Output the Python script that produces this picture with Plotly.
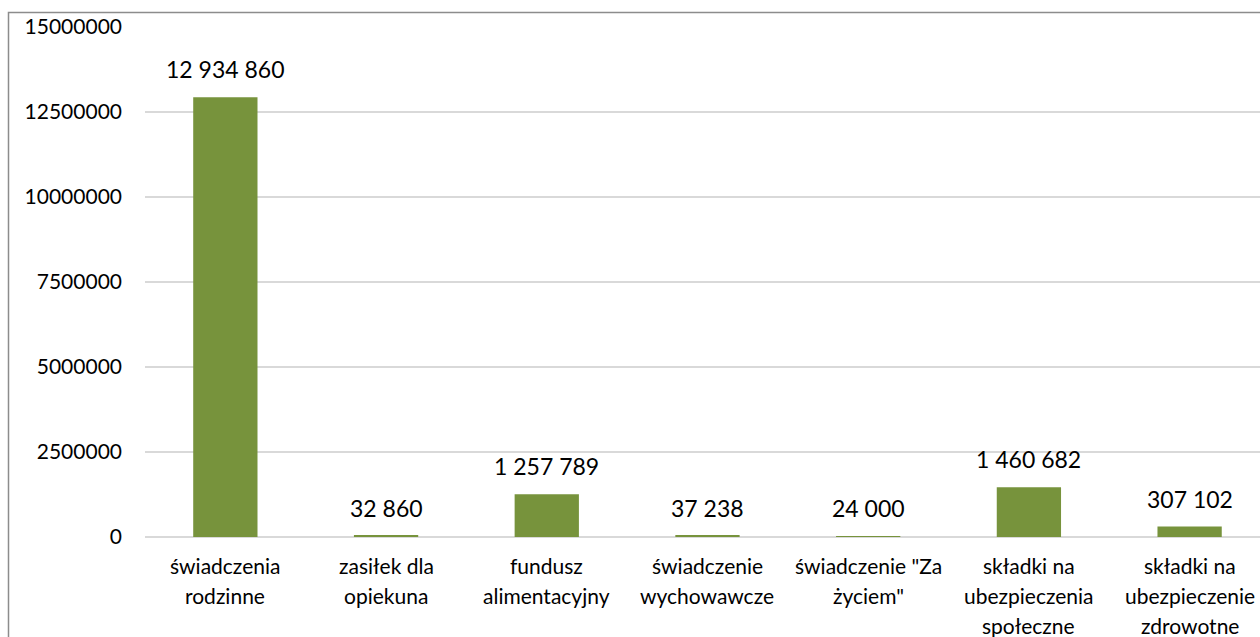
import plotly.graph_objects as go

# Amounts per benefit type
categories = [
    "świadczenia rodzinne",
    "zasiłek dla opiekuna",
    "fundusz alimentacyjny",
    "świadczenie wychowawcze",
    "świadczenie \"Za życiem\"",
    "składki na ubezpieczenia społeczne",
    "składki na ubezpieczenie zdrowotne",
]
category_lines = [
    ["świadczenia", "rodzinne"],
    ["zasiłek dla", "opiekuna"],
    ["fundusz", "alimentacyjny"],
    ["świadczenie", "wychowawcze"],
    ["świadczenie \"Za", "życiem\""],
    ["składki na", "ubezpieczenia", "społeczne"],
    ["składki na", "ubezpieczenie", "zdrowotne"],
]
values = [12934860, 32860, 1257789, 37238, 24000, 1460682, 307102]
y_ticks = [0, 2500000, 5000000, 7500000, 10000000, 12500000, 15000000]

FONT = "Lato"
TEXT = "#000000"
BAR = "#77933C"
GRID = "#d9d9d9"

W, H = 1260, 637
ML, MR, MT, MB = 145, 0, 27, 100

xs = list(range(len(categories)))

fig = go.Figure(
    go.Bar(
        x=xs,
        y=values,
        width=0.4,
        marker=dict(color=BAR, line=dict(width=0)),
        hoverinfo="skip",
    )
)

annotations = []
# value labels above bars
for x, v in zip(xs, values):
    annotations.append(dict(
        x=x, y=v, xref="x", yref="y",
        text=f"{v:,}".replace(",", " "),
        showarrow=False, yanchor="middle", yshift=28,
        font=dict(family=FONT, size=23, color=TEXT),
    ))
# category labels, one line at a time
for x, lines in zip(xs, category_lines):
    for i, line in enumerate(lines):
        annotations.append(dict(
            x=x, y=0, xref="x", yref="paper",
            text=line, showarrow=False, yanchor="middle",
            yshift=-28 - 30 * i,
            font=dict(family=FONT, size=21, color=TEXT),
        ))

plot_w = W - ML - MR
plot_h = H - MT - MB

# outer chart frame
frame_left = (8.5 - ML) / plot_w
frame_top = 1 + (MT - 12.5) / plot_h

fig.update_layout(
    width=W, height=H,
    margin=dict(l=ML, r=MR, t=MT, b=MB, pad=0),
    paper_bgcolor="white",
    plot_bgcolor="white",
    showlegend=False,
    bargap=0.6,
    annotations=annotations,
    shapes=[dict(
        type="rect", xref="paper", yref="paper",
        x0=frame_left, x1=1.2, y0=-0.5, y1=frame_top,
        line=dict(color="#8c8c8c", width=1.5),
        layer="below",
    )],
    xaxis=dict(
        range=[-0.5, 6.438],
        showticklabels=False,
        showgrid=False, zeroline=False, showline=False, ticks="",
        fixedrange=True,
    ),
    yaxis=dict(
        range=[0, 15000000],
        tickvals=y_ticks,
        ticktext=[str(t) for t in y_ticks],
        tickfont=dict(family=FONT, size=21, color=TEXT),
        showgrid=True, gridcolor=GRID, gridwidth=1.5,
        zeroline=True, zerolinecolor=GRID, zerolinewidth=1.5,
        showline=False, ticks="",
        ticklabelstandoff=22,
        fixedrange=True,
    ),
)

fig.write_html("out.html", config={"displayModeBar": False})
